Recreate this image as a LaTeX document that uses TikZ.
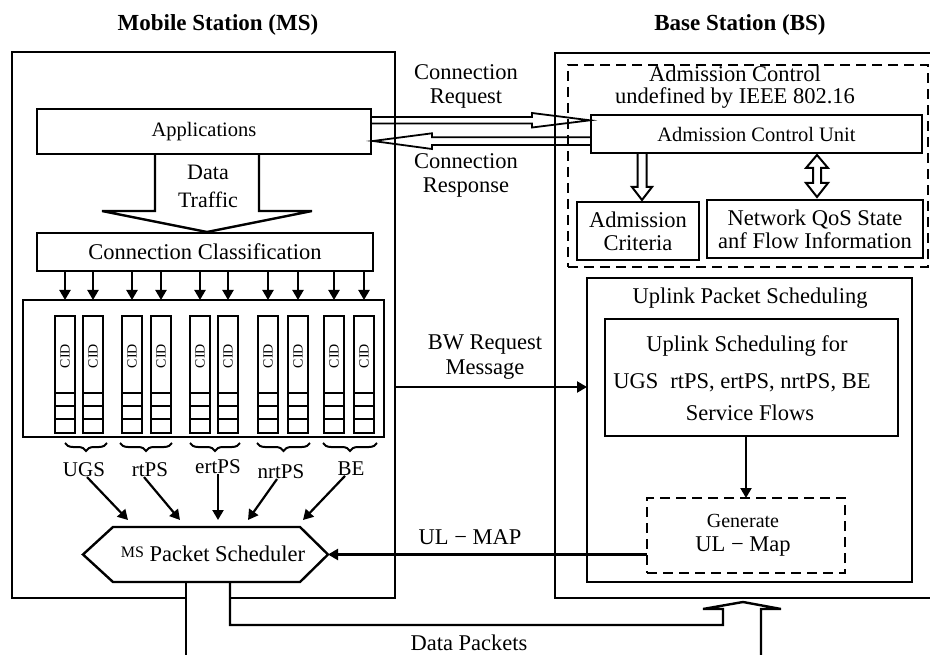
\documentclass[tikz,border=0pt]{standalone}
\usepackage{fontspec}
\setmainfont{Liberation Serif}
\usetikzlibrary{arrows.meta,calc,decorations.pathreplacing}
\newcommand\fsz[2]{\fontsize{#1}{#2}\selectfont}
\begin{document}
\begin{tikzpicture}[x=1pt,y=-1pt,
  font=\fsz{22.5}{24},
  every node/.style={inner sep=0pt,outer sep=0pt},
  box/.style={draw,line width=2.4pt,align=center},
  lbl/.style={align=center},
  arr/.style={line width=2.2pt,-{Triangle[length=10pt,width=11pt]}},
  hol/.style={line width=1.8pt,line join=miter},
  dsh/.style={line width=2.4pt,dash pattern=on 10pt off 6pt},
  queue/.style={draw,line width=2.2pt,minimum width=20pt,minimum height=117pt},
  frame/.style={line width=2.4pt,line join=miter}
]
\useasboundingbox (0,0) rectangle (930,655);

% outer frames
\draw[frame] (186,598) -- (12,598) -- (12,52) -- (395,52) -- (395,598) -- (230,598);
\draw[frame] (940,598) -- (555,598) -- (555,53) -- (940,53);

% titles
\node[font=\fsz{23}{25}\bfseries] (tms) at (218,25) {Mobile Station (MS)};
\node[font=\fsz{23}{25}\bfseries] (tbs) at (740,25) {Base Station (BS)};

% ---------- Mobile station ----------
\node[box,minimum width=334pt,minimum height=45pt,font=\fsz{20.5}{22}] (app) at (204,131.5) {Applications};
\node[box,minimum width=336pt,minimum height=38pt] (cc) at (205,252) {Connection Classification};
\draw[frame] ($(app.south)+(-49,0)$) -- (155,211) -- (102,211) -- ($(cc.north)+(2,-1)$) -- (312,211) -- (259,211) -- ($(app.south)+(55,0)$);
\node[lbl,font=\fsz{22}{28}] (dt) at (208,186) {Data\\Traffic};

\node[draw,line width=2.4pt,minimum width=361pt,minimum height=137pt] (qbox) at (203.5,368.5) {};
\foreach \x [count=\i] in {65,93,132,161,200,228,268,298,334,364}{
  \node[queue] (q\i) at (\x,374.5) {};
  \foreach \d in {14,27,40}{
    \draw[line width=2.2pt] ($(q\i.south west)+(0,-\d)$) -- ($(q\i.south east)+(0,-\d)$);
  }
  \node[rotate=90,font=\fsz{14}{14}] at ($(q\i.north)+(0,40)$) {CID};
  \draw[arr] (cc.south -| q\i) -- (qbox.north -| q\i);
}
\foreach \a/\b in {65/107,120/172,190/240,257/310,323/377}{
  \draw[line width=2pt,decorate,decoration={brace,mirror,amplitude=8pt}] (\a,443) -- (\b,443);
}
\node[font=\fsz{21}{22}] (lugs) at (84,470) {UGS};
\node[font=\fsz{21}{22}] (lrt) at (150,470) {rtPS};
\node[font=\fsz{21}{22}] (lert) at (218,467) {ertPS};
\node[font=\fsz{21}{22}] (lnrt) at (281,472) {nrtPS};
\node[font=\fsz{21}{22}] (lbe) at (351,469) {BE};

\node[minimum width=245pt,minimum height=55pt] (sched) at (205.5,554.5) {};
\draw[frame] (sched.west) -- ($(sched.north west)+(30,0)$) -- ($(sched.north east)+(-28,0)$) -- (sched.east) -- ($(sched.south east)+(-28,0)$) -- ($(sched.south west)+(30,0)$) -- cycle;
\node (schedt) at (213,554) {\raisebox{4pt}{\fsz{16}{16}MS} Packet Scheduler};

\coordinate (h1) at (128,520);
\coordinate (h2) at (180,520);
\coordinate (h3) at (218,520);
\coordinate (h4) at (248,520);
\coordinate (h5) at (303,520);
\draw[arr] ($(lugs.south)+(3,0)$) -- (h1);
\draw[arr] ($(lrt.south)+(-6,0)$) -- (h2);
\draw[arr] (lert.south) -- (h3);
\draw[arr] ($(lnrt.south)+(-4,0)$) -- (h4);
\draw[arr] ($(lbe.south)+(-6,0)$) -- (h5);

% data packets pipe
\draw[frame] ($(sched.south)+(-19.5,0)$) -- (186,660);
\draw[frame] ($(sched.south)+(24.5,0)$) -- (230,625) -- (723,625) -- (723,609) -- (703,609) -- (743,602) -- (781,609) -- (761,609) -- (761,660);
\node (dp) at (469,643) {Data Packets};

% ---------- Base station ----------
\node[draw,dsh,minimum width=360pt,minimum height=202pt] (acbox) at (748,166) {};
\node[lbl,font=\fsz{22.5}{22}] (actitle) at (735,87.5) {Admission Control\\undefined by IEEE 802.16};
\node[box,minimum width=331pt,minimum height=38pt,font=\fsz{20.5}{22}] (acu) at (756.5,134) {Admission Control Unit};
\node[box,minimum width=122pt,minimum height=58pt,font=\fsz{22.5}{23}] (ac) at (638,231) {Admission\\Criteria};
\node[box,minimum width=216pt,minimum height=58pt,font=\fsz{22.5}{23}] (nq) at (815,229) {Network QoS State\\anf Flow Information};
\draw[hol,line width=2pt] (637.5,153) -- (637.5,187) -- (632,187) -- (642,200) -- (652,187) -- (646.5,187) -- (646.5,153);
\draw[hol,line width=2pt] (817,155) -- (828,168) -- (821,168) -- (821,183) -- (828,183) -- (817,197) -- (806,183) -- (813,183) -- (813,168) -- (806,168) -- cycle;

% connection request / response
\draw[hol] ($(app.east)+(0,-14.5)$) -- (532,117) -- (532,113) -- ($(acu.west)+(-1,-13.7)$) -- (532,127.5) -- (532,123.5) -- ($(app.east)+(0,-8)$);
\draw[hol] ($(acu.west)+(0,3.3)$) -- (432,137.3) -- (432,133.3) -- ($(app.east)+(2,9.5)$) -- (432,149) -- (432,145) -- ($(acu.west)+(0,11)$);
\node[lbl] (creq) at (466,86) {Connection\\Request};
\node[lbl] (cres) at (466,175.5) {Connection\\Response};

% uplink scheduling
\node[draw,line width=2.4pt,minimum width=325pt,minimum height=304pt] (ups) at (749.5,430) {};
\node (upst) at (750,298) {Uplink Packet Scheduling};
\node[draw,line width=2.4pt,minimum width=293pt,minimum height=117pt] (usf) at (751.5,377.5) {};
\node (usf1) at (747,346) {Uplink Scheduling for};
\node (usf2) at (742,383) {UGS\hspace{12pt}rtPS, ertPS, nrtPS, BE};
\node (usf3) at (750,413) {Service Flows};
\node[draw,dsh,minimum width=198pt,minimum height=75pt] (gen) at (746,535.5) {};
\node[font=\fsz{20}{20}] (gen1) at (743,521) {Generate};
\node (gen2) at (743,547) {UL − Map};
\draw[arr] (usf.south -| gen.north) -- (gen.north);

% BW request
\coordinate (bw) at (395,387);
\draw[arr] (bw) -- (bw -| ups.west);
\node[lbl,font=\fsz{22.5}{25}] (bwt) at (485,357) {BW Request\\Message};

% UL-MAP
\draw[arr] (sched.east -| gen.west) -- (sched.east);
\node (ulm) at (470,537) {UL − MAP};
\end{tikzpicture}
\end{document}
